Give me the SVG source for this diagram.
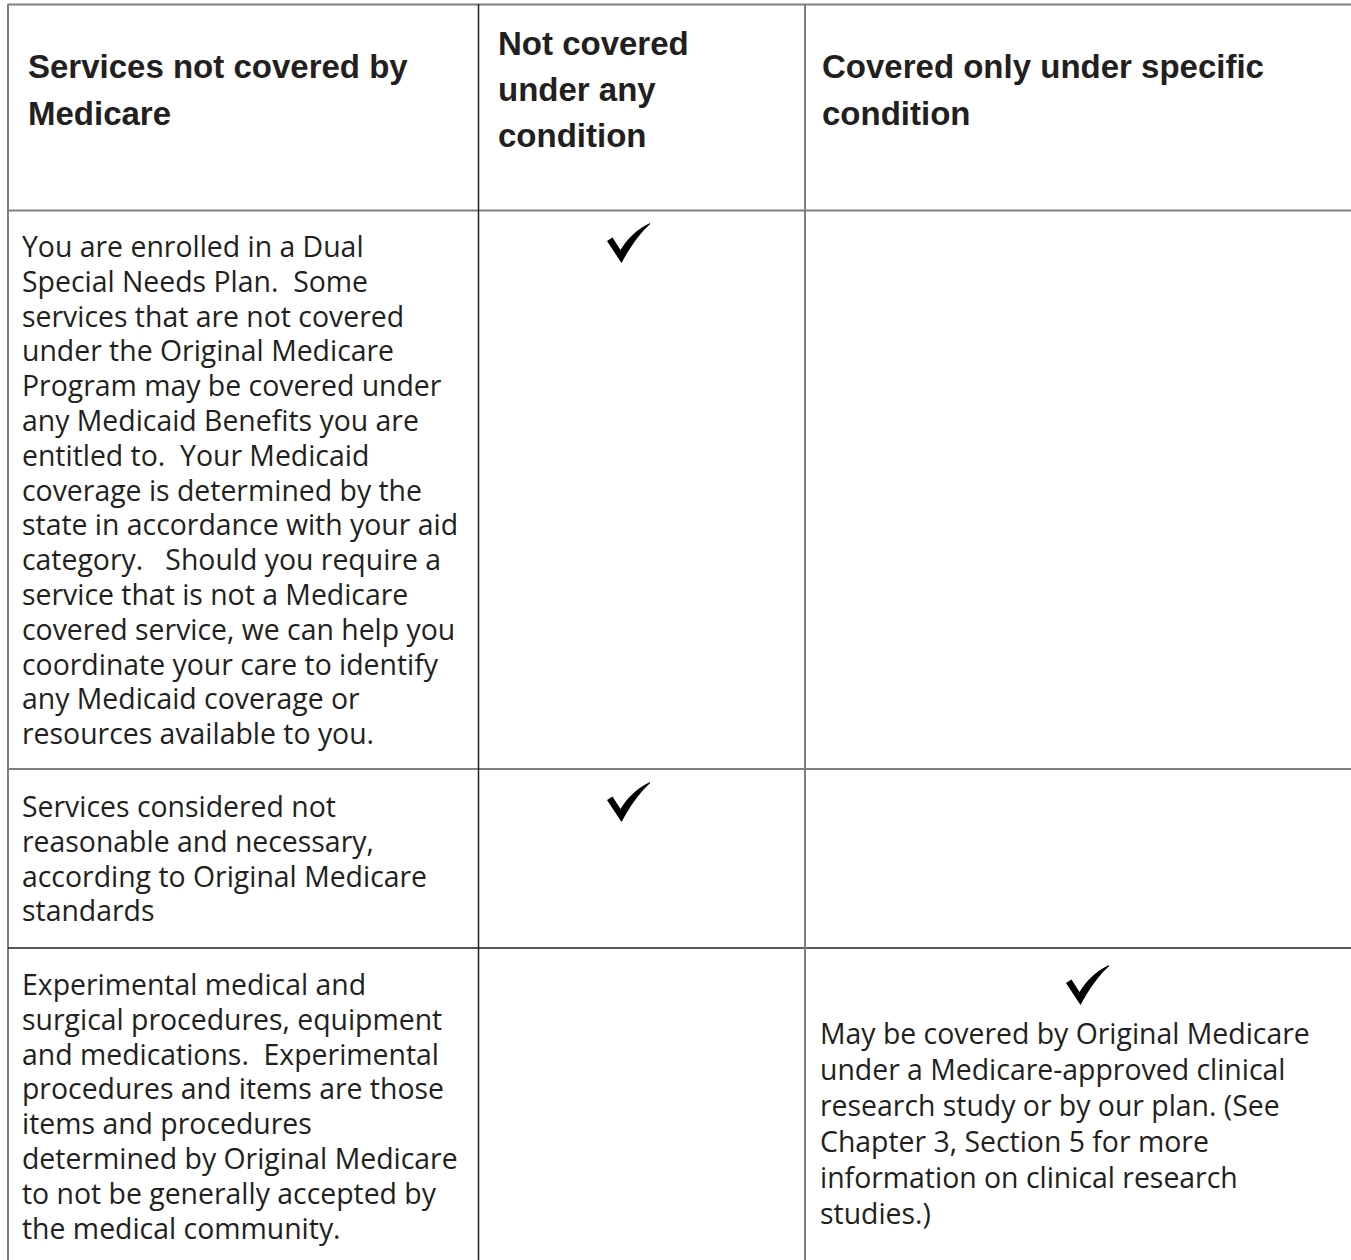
<svg xmlns="http://www.w3.org/2000/svg" width="1351" height="1260" viewBox="0 0 1351 1260">
<style>
.hd{font-family:"Liberation Sans",Arial,sans-serif;font-weight:bold;font-size:33px;fill:#231f20}
.bd{font-family:"Open Sans","Liberation Sans",sans-serif;font-size:28.4px;fill:#231f20}
.gl{stroke:#7f7f7f;stroke-width:2;fill:none}
.dl{stroke:#231f20;stroke-width:1.5;fill:none}
.ck{fill:#000}
</style>
<defs>
<path id="check" d="M0,18 L5.5,14.5 L13.5,27 C20,16 30,6 43,0 L43,1.2 C33,10 23,24 14.5,40 Z"/>
</defs>
<rect width="1351" height="1260" fill="#fff"/>
<g id="connectors">
<line class="gl" x1="8" y1="4.5" x2="1351" y2="4.5"/>
<line class="gl" x1="8" y1="4" x2="8" y2="1260"/>
<line class="gl" x1="8" y1="210.5" x2="1351" y2="210.5"/>
<line class="gl" x1="8" y1="769" x2="1351" y2="769"/>
<line class="dl" x1="8" y1="948" x2="1351" y2="948"/>
<line class="dl" x1="478.5" y1="4" x2="478.5" y2="1260"/>
<line class="gl" x1="805" y1="4" x2="805" y2="1260"/>
</g>
<g id="header-col1">
<text class="hd"><tspan x="28" y="78">Services not covered by</tspan><tspan x="28" y="125">Medicare</tspan></text>
</g>
<g id="header-col2">
<text class="hd"><tspan x="498" y="55">Not covered</tspan><tspan x="498" y="101">under any</tspan><tspan x="498" y="147">condition</tspan></text>
</g>
<g id="header-col3">
<text class="hd"><tspan x="822" y="78">Covered only under specific</tspan><tspan x="822" y="125">condition</tspan></text>
</g>
<g id="row1">
<text class="bd" xml:space="preserve"><tspan x="22" y="257">You are enrolled in a Dual</tspan><tspan x="22" y="291.8">Special Needs Plan.  Some</tspan><tspan x="22" y="326.6">services that are not covered</tspan><tspan x="22" y="361.4">under the Original Medicare</tspan><tspan x="22" y="396.2">Program may be covered under</tspan><tspan x="22" y="431">any Medicaid Benefits you are</tspan><tspan x="22" y="465.8">entitled to.  Your Medicaid</tspan><tspan x="22" y="500.6">coverage is determined by the</tspan><tspan x="22" y="535.4">state in accordance with your aid</tspan><tspan x="22" y="570.2">category.   Should you require a</tspan><tspan x="22" y="605">service that is not a Medicare</tspan><tspan x="22" y="639.8">covered service, we can help you</tspan><tspan x="22" y="674.6">coordinate your care to identify</tspan><tspan x="22" y="709.4">any Medicaid coverage or</tspan><tspan x="22" y="744.2">resources available to you.</tspan></text>
<use href="#check" class="ck" x="607" y="223"/>
</g>
<g id="row2">
<text class="bd"><tspan x="22" y="817">Services considered not</tspan><tspan x="22" y="851.8">reasonable and necessary,</tspan><tspan x="22" y="886.6">according to Original Medicare</tspan><tspan x="22" y="921.4">standards</tspan></text>
<use href="#check" class="ck" x="607" y="782"/>
</g>
<g id="row3">
<text class="bd" xml:space="preserve"><tspan x="22" y="995">Experimental medical and</tspan><tspan x="22" y="1029.8">surgical procedures, equipment</tspan><tspan x="22" y="1064.6">and medications.  Experimental</tspan><tspan x="22" y="1099.4">procedures and items are those</tspan><tspan x="22" y="1134.2">items and procedures</tspan><tspan x="22" y="1169">determined by Original Medicare</tspan><tspan x="22" y="1203.8">to not be generally accepted by</tspan><tspan x="22" y="1238.6">the medical community.</tspan></text>
<use href="#check" class="ck" x="1066" y="965"/>
<text class="bd"><tspan x="820" y="1044">May be covered by Original Medicare</tspan><tspan x="820" y="1080">under a Medicare-approved clinical</tspan><tspan x="820" y="1116">research study or by our plan. (See</tspan><tspan x="820" y="1152">Chapter 3, Section 5 for more</tspan><tspan x="820" y="1188">information on clinical research</tspan><tspan x="820" y="1224">studies.)</tspan></text>
</g>
</svg>
